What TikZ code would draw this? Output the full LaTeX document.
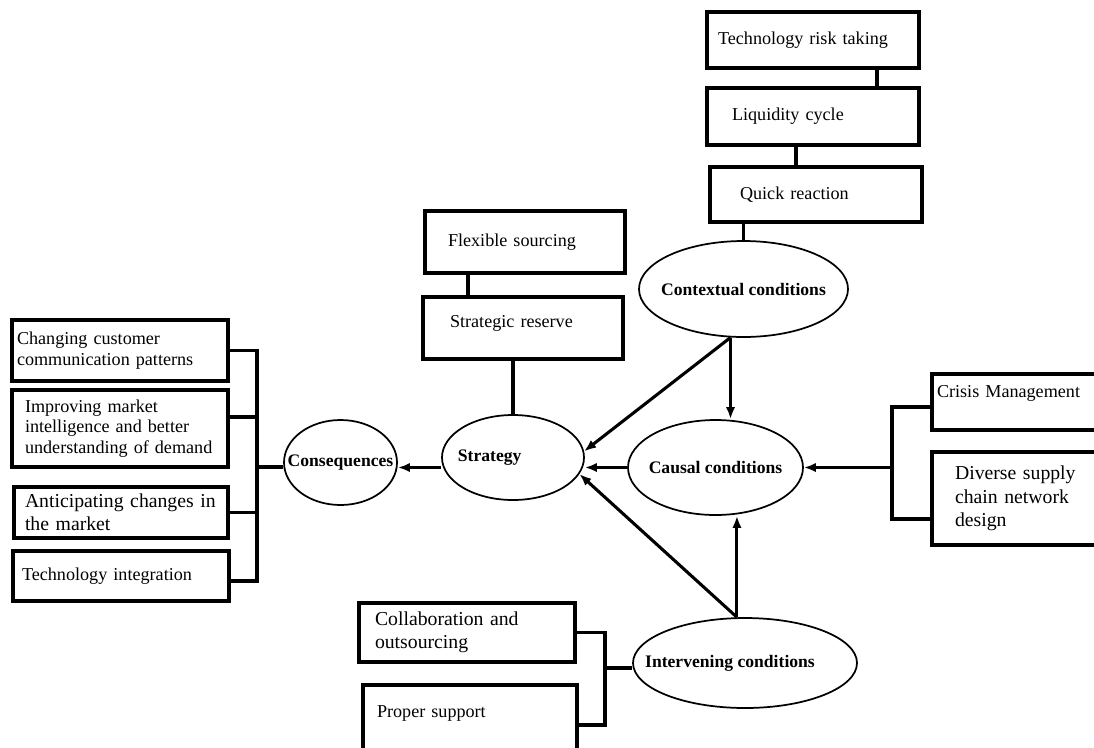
\documentclass[tikz,border=0pt]{standalone}
\usepackage{fontspec}
\setmainfont{Liberation Serif}
\usetikzlibrary{arrows.meta, shapes.geometric, calc}
\newcommand{\elabel}[2][0pt]{\makebox[0pt]{#2\hspace*{#1}}}

\begin{document}
\begin{tikzpicture}[x=0.75pt, y=-0.75pt, >={Latex[length=9pt,width=7pt]},
    box/.style={draw, line width=2.6pt, rectangle, align=left, inner ysep=0pt,
        font=\fontsize{13.6}{15.4}\selectfont},
    bigtext/.style={font=\fontsize{14.8}{17.5}\selectfont},
    ell/.style={draw, ellipse, line width=1.3pt, inner sep=0pt,
        font=\fontsize{13.2}{15}\selectfont\bfseries},
    link/.style={line width=2.5pt},
    arr/.style={line width=2.3pt, ->}]

\useasboundingbox (0,0) rectangle (1094,747);
\clip (0,0) rectangle (1094,747);

% === Contextual conditions (top) ===
\node[box, minimum width=159pt, minimum height=42pt, inner xsep=8.25pt, text width=142.5pt]
    (techrisk) at (813,40) {Technology risk taking};
\node[box, minimum width=159pt, minimum height=42.75pt, inner xsep=18.75pt, text width=121.5pt]
    (liq) at (813,116.5) {Liquidity cycle};
\node[box, minimum width=159pt, minimum height=41.25pt, inner xsep=22.5pt, text width=114pt]
    (quick) at (816,194.5) {Quick reaction};
\node[ell, minimum width=156.75pt, minimum height=72pt] (ctx) at (743.5,289) {\elabel{Contextual conditions}};

\draw[link] ([xshift=48pt]techrisk.south) -- ([xshift=48pt]liq.north);
\draw[link] ([xshift=-12.75pt]liq.south) -- ([xshift=-12.75pt]liq.south |- quick.north);
\draw[link] (ctx.north) -- (ctx.north |- quick.south);

% === Strategy ===
\node[box, minimum width=150pt, minimum height=46.5pt, inner xsep=17.25pt, text width=115.5pt]
    (flex) at (525,242) {Flexible sourcing};
\node[box, minimum width=150pt, minimum height=46.5pt, inner xsep=20.25pt, text width=109.5pt,
    text height=9pt, text depth=10.3pt] (res) at (523,328) {Strategic reserve};
\node[ell, minimum width=106.5pt, minimum height=63.75pt] (strat) at (513,457.5) {\elabel[35pt]{Strategy}};

\draw[link] ([xshift=-42.75pt]flex.south) -- ([xshift=-42.75pt]flex.south |- res.north);
\draw[link] (strat.north) -- (strat.north |- res.south);

% === Causal conditions ===
\node[ell, minimum width=131.25pt, minimum height=71.25pt] (caus) at (715.5,467.5) {\elabel{Causal conditions}};
\node[box, minimum width=133.5pt, minimum height=42pt, inner xsep=3.75pt, text width=126pt,
    text height=9pt, text depth=16.3pt] (crisis) at (1021,402) {Crisis Management};
\node[box, bigtext, minimum width=133.5pt, minimum height=69.75pt, inner xsep=17.25pt, text width=99pt]
    (div) at (1021,498.5) {Diverse supply\\chain network\\design};

\coordinate (rb1) at (892,407);
\coordinate (rb2) at (892,519);
\draw[link] (rb1 -| crisis.west) -- (rb1) -- (rb2) -- (rb2 -| div.west);
\draw[arr] (caus.east -| rb1) -- (caus.east);

% === Intervening conditions ===
\node[ell, minimum width=168pt, minimum height=67.5pt] (intv) at (745,663) {\elabel[22.5pt]{Intervening conditions}};
\node[box, bigtext, minimum width=162pt, minimum height=44.25pt, inner xsep=12pt, text width=138pt]
    (collab) at (467,632.5) {Collaboration and\\outsourcing};
\node[box, minimum width=160.5pt, minimum height=63.75pt, inner xsep=10.5pt, text width=139.5pt,
    text height=9pt, text depth=24.6pt] (prop) at (470,727.5) {Proper support};

\coordinate (bb) at (605,668);
\coordinate (bb1) at (605,725);
\draw[link] (collab.east) -| (bb1) -- (bb1 -| prop.east);
\draw[link] (bb) -- (bb -| intv.west);

% === Consequences ===
\node[ell, minimum width=84.75pt, minimum height=63.75pt] (cons) at (340.5,462.5) {\elabel{Consequences}};
\node[box, minimum width=162pt, minimum height=45.75pt, inner xsep=3.75pt, text width=154.5pt]
    (chg) at (120,350.5) {Changing customer\\communication patterns};
\node[box, minimum width=162pt, minimum height=57.75pt, inner xsep=9.75pt, text width=142.5pt]
    (imp) at (120,428.5) {Improving market\\intelligence and better\\understanding of demand};
\node[box, bigtext, minimum width=160.5pt, minimum height=38.25pt, inner xsep=8.25pt, text width=144pt]
    (ant) at (121,512.5) {Anticipating changes in\\the market};
\node[box, minimum width=162pt, minimum height=37.5pt, inner xsep=6.75pt, text width=148.5pt]
    (tint) at (121,576) {Technology integration};

\coordinate (lb) at (257,467);
\coordinate (lb2) at (257,417);
\coordinate (lb4) at (257,581);
\draw[link] (chg.east) -| (lb4) -- (lb4 -| tint.east);
\draw[link] (lb2) -- (lb2 -| imp.east);
\draw[link] (ant.east) -- (ant.east -| lb);
\draw[link] (lb) -- (lb -| cons.west);

% === Arrows ===
\draw[arr] (ctx.-105) -- (ctx.-105 |- caus.north);
\draw[arr] (ctx.-105) -- (strat.5);
\draw[arr] (intv.100) -- (intv.100 |- caus.south);
\draw[arr] (intv.100) -- (strat.-14);
\draw[arr] (caus.west) -- (caus.west -| strat.east);
\draw[arr] (strat.west |- caus.west) -- (cons.east |- caus.west);

\end{tikzpicture}
\end{document}
